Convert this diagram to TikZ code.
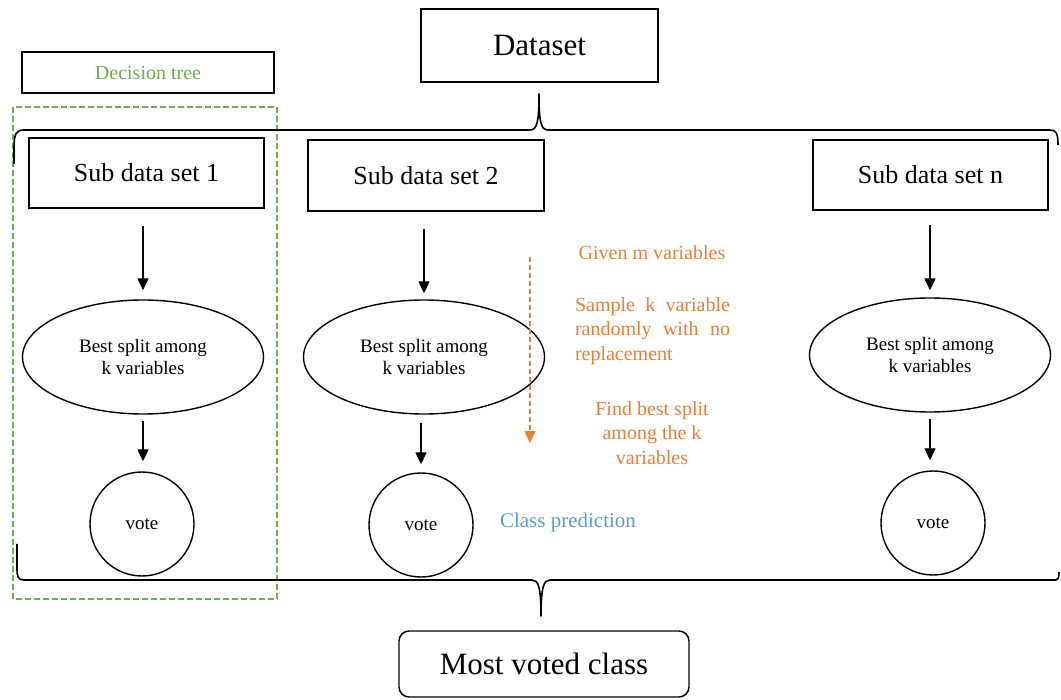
\documentclass[tikz,border=0pt]{standalone}
\usepackage{fontspec}
\setmainfont{Liberation Serif}
\usetikzlibrary{arrows.meta,shapes.geometric}
\definecolor{treegreen}{RGB}{112,173,71}
\definecolor{steporange}{RGB}{237,125,49}
\definecolor{predblue}{RGB}{91,155,213}
\begin{document}
\begin{tikzpicture}[x=1pt,y=-1pt,
  box/.style={draw,line width=1.4pt,inner sep=0pt,minimum width=236pt,minimum height=71pt,
    font=\fontsize{26}{30}\selectfont},
  bigbox/.style={draw,line width=1.4pt,inner sep=0pt,font=\fontsize{31}{36}\selectfont},
  splitnode/.style={draw,ellipse,line width=1.4pt,inner sep=0pt,minimum width=241pt,minimum height=114pt,
    align=center,font=\fontsize{19}{22}\selectfont},
  votenode/.style={draw,circle,line width=1.4pt,inner sep=0pt,minimum size=104pt,
    font=\fontsize{19}{22}\selectfont},
  arr/.style={line width=1.4pt,-{Triangle[length=12pt,width=11pt]}},
  bracepath/.style={line width=1.6pt,line join=round},
  steptext/.style={text=steporange,font=\fontsize{20}{24.5}\selectfont,inner sep=0pt},
]
\useasboundingbox (0,0) rectangle (1061,700);

% main boxes
\node[bigbox,minimum width=237pt,minimum height=73pt] (data) at (539.5,45.5) {Dataset};
\node[draw,line width=1.2pt,minimum width=252pt,minimum height=41pt,inner sep=0pt,
      text=treegreen,font=\fontsize{20}{24}\selectfont] (dtree) at (148,72.5) {Decision tree};

\node[box,minimum width=235pt,minimum height=70pt] (s1) at (146.5,173) {Sub data set 1};
\node[box] (s2) at (426,175.5) {Sub data set 2};
\node[box,minimum width=235pt,minimum height=70pt] (sn) at (930.5,175) {Sub data set n};

\node[splitnode] (e1) at (143,357) {Best split among\\k variables};
\node[splitnode] (e2) at (424,357) {Best split among\\k variables};
\node[splitnode] (en) at (930,355) {Best split among\\k variables};

\node[votenode] (v1) at (142,524) {vote};
\node[votenode] (v2) at (421,525) {vote};
\node[votenode] (vn) at (933,523) {vote};

\node[bigbox,rounded corners=10pt,minimum width=290pt,minimum height=66pt] (most) at (544,664) {Most voted class};

% decision tree frame
\draw[treegreen,line width=1.3pt,dash pattern=on 6pt off 3pt] (13,107) rectangle (277,599);

% upper brace
\draw[bracepath] (14,164) -- (14,148) .. controls (14,134) and (16,130) .. (24,130)
  -- (530,130) .. controls (537,130) and (539,122) .. (539,94)
  .. controls (539,122) and (541,130) .. (548,130)
  -- (1050,130) .. controls (1056,130) and (1058,133) .. (1058,145);

% lower brace
\draw[bracepath] (17,544) -- (17,568) .. controls (17,577) and (18,580) .. (24,580)
  -- (532,580) .. controls (538,580) and (541,586) .. (541,616)
  .. controls (541,586) and (544,580) .. (550,580)
  -- (1056,580) .. controls (1058,580) and (1059,578) .. (1059,572);

% flow arrows
\draw[arr,shorten <=17pt,shorten >=9pt] (e1 |- s1.south) -- (e1.north);
\draw[arr,shorten <=17pt,shorten >=6pt] (e2 |- s2.south) -- (e2.north);
\draw[arr,shorten <=14pt,shorten >=7pt] (en.north |- sn.south) -- (en.north);
\draw[arr,shorten <=6pt,shorten >=10pt] (e1.south) -- (e1.south |- v1.north);
\draw[arr,shorten <=8pt,shorten >=8pt] (v2 |- e2.south) -- (v2.north);
\draw[arr,shorten <=6pt,shorten >=10pt] (en.south) -- (en.south |- vn.north);

% sampling steps
\coordinate (sa) at (530,257);
\coordinate (sb) at (530,443);
\draw[steporange,line width=1.4pt,dash pattern=on 5pt off 3pt,
      -{Triangle[length=12pt,width=11pt]}] (sa) -- (sb);
\node[steptext] (given) at (652,253) {Given m variables};
\node[steptext,align=left] (sample) at (652.5,331)
  {\makebox[155pt][s]{Sample k variable}\\\makebox[155pt][s]{randomly with no}\\replacement};
\node[steptext,align=center] (find) at (652,433) {Find best split\\among the k\\variables};

\node[text=predblue,font=\fontsize{21}{24}\selectfont,inner sep=0pt] (pred) at (568,522) {Class prediction};
\end{tikzpicture}
\end{document}
